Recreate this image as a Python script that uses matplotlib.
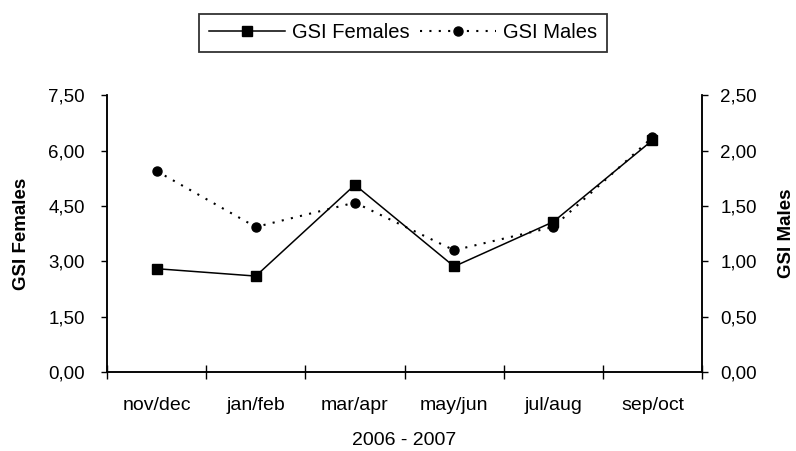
import numpy as np
import matplotlib
matplotlib.use("Agg")
from matplotlib import pyplot as plt
from matplotlib.ticker import FixedLocator, FuncFormatter

# Data
periods = ["nov/dec", "jan/feb", "mar/apr", "may/jun", "jul/aug", "sep/oct"]
gsi_females = [2.80, 2.60, 5.07, 2.86, 4.07, 6.28]
gsi_males = [1.815, 1.31, 1.53, 1.10, 1.31, 2.12]
left_ticks = [0.0, 1.5, 3.0, 4.5, 6.0, 7.5]
right_ticks = [0.0, 0.5, 1.0, 1.5, 2.0, 2.5]

plt.rcParams['font.family'] = ['Liberation Sans', 'DejaVu Sans']

fig = plt.figure(figsize=(7.96, 4.51), dpi=100)
ax = fig.add_axes([0.1344, 0.175, 0.7476, 0.614])
ax2 = ax.twinx()

x = np.arange(len(periods))

# Females on the left axis, males on the right axis
l1, = ax.plot(x, gsi_females, color='black', lw=1.1, marker='s', ms=7,
              label='GSI Females', clip_on=False, zorder=3)
l2, = ax2.plot(x, gsi_males, color='black', lw=1.5, ls=(0, (1, 3.5)), marker='o',
               ms=6.5, label='GSI Males', clip_on=False, zorder=3)

comma = FuncFormatter(lambda v, p: f"{v:.2f}".replace('.', ','))

ax.set_xlim(-0.5, len(periods) - 0.5)
ax.set_ylim(left_ticks[0], left_ticks[-1])
ax2.set_ylim(right_ticks[0], right_ticks[-1])
ax.set_yticks(left_ticks)
ax2.set_yticks(right_ticks)
ax.yaxis.set_major_formatter(comma)
ax2.yaxis.set_major_formatter(comma)

# category boundaries as ticks, labels centred between them
ax.xaxis.set_major_locator(FixedLocator(np.arange(-0.5, len(periods), 1.0)))
ax.xaxis.set_minor_locator(FixedLocator(x))
ax.set_xticklabels([])
ax.set_xticklabels(periods, minor=True)
ax.tick_params(axis='x', which='major', direction='inout', length=10, width=1)
ax.tick_params(axis='x', which='minor', length=0, pad=18, labelsize=14)
ax.tick_params(axis='y', direction='out', length=4, width=1, labelsize=13.5, pad=12)
ax2.tick_params(axis='y', direction='out', length=4, width=1, labelsize=13.5, pad=9)

for a in (ax, ax2):
    a.spines['top'].set_visible(False)
    for s in a.spines.values():
        s.set_linewidth(1.1)

ax.set_ylabel('GSI Females', fontsize=13.5, fontweight='bold', labelpad=13)
ax2.set_ylabel('GSI Males', fontsize=13.5, fontweight='bold', labelpad=15)
ax.set_xlabel('2006 - 2007', fontsize=14, labelpad=13)

leg = fig.legend([l1, l2], ['GSI Females', 'GSI Males'], loc='center',
                 bbox_to_anchor=(403 / 796, 1 - 33 / 451), ncol=2, fontsize=14.5,
                 frameon=True, fancybox=False, edgecolor='black',
                 handlelength=3.8, handletextpad=0.35, columnspacing=0.5,
                 borderpad=0.45, borderaxespad=0)
leg.get_frame().set_linewidth(1.3)

fig.savefig('out.png', dpi=100)
